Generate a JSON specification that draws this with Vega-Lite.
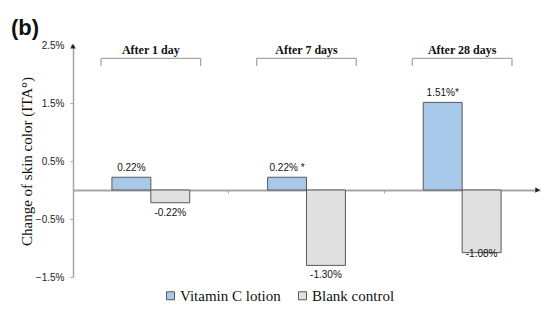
{
  "$schema": "https://vega.github.io/schema/vega-lite/v6.json",
  "width": 467,
  "height": 232,
  "autosize": {"type": "none"},
  "padding": {"left": 73, "top": 45, "right": 8, "bottom": 33},
  "background": "white",
  "title": {"text": "(b)", "anchor": "start", "frame": "group", "dx": -62, "dy": 6, "offset": 6, "fontSize": 22, "font": "Liberation Sans", "fontWeight": "bold", "color": "#111111"},
  "config": {"view": {"stroke": null}, "font": "Liberation Sans"},
  "datasets": {
    "bars": [
      {"day": "After 1 day", "treatment": "Vitamin C lotion", "value": 0.22, "label": "0.22%"},
      {"day": "After 1 day", "treatment": "Blank control", "value": -0.22, "label": "-0.22%"},
      {"day": "After 7 days", "treatment": "Vitamin C lotion", "value": 0.22, "label": "0.22% *"},
      {"day": "After 7 days", "treatment": "Blank control", "value": -1.30, "label": "-1.30%"},
      {"day": "After 28 days", "treatment": "Vitamin C lotion", "value": 1.51, "label": "1.51%*"},
      {"day": "After 28 days", "treatment": "Blank control", "value": -1.08, "label": "-1.08%"}
    ],
    "days": [
      {"day": "After 1 day"},
      {"day": "After 7 days"},
      {"day": "After 28 days"}
    ]
  },
  "layer": [
    {
      "data": {"name": "bars"},
      "mark": {"type": "bar", "stroke": "#595959", "strokeWidth": 1},
      "encoding": {
        "x": {
          "field": "day", "type": "nominal",
          "scale": {"domain": ["After 1 day", "After 7 days", "After 28 days"], "paddingInner": 0, "paddingOuter": 0},
          "axis": {"title": null, "labels": false, "offset": -87, "domainColor": "#a6a6a6", "domainWidth": 2, "tickColor": "#a6a6a6", "tickSize": 3, "bandPosition": 0, "ticks": true, "grid": false}
        },
        "xOffset": {"field": "treatment", "type": "nominal", "sort": ["Vitamin C lotion", "Blank control"], "scale": {"paddingOuter": 1.1, "paddingInner": 0}},
        "y": {
          "field": "value", "type": "quantitative",
          "scale": {"domain": [-1.5, 2.5], "nice": false, "zero": false},
          "axis": {"title": "Change of skin color (ITA°)", "titleFont": "Liberation Serif", "titleFontSize": 15, "titleFontWeight": "normal", "titleColor": "#111111", "values": [-1.5, -0.5, 0.5, 1.5, 2.5], "labelExpr": "format(datum.value,'.1f')+'%'", "labelFontSize": 10, "labelColor": "#222222", "domainColor": "#a6a6a6", "domainWidth": 1.5, "tickColor": "#a6a6a6", "tickSize": 3, "grid": false, "labelPadding": 6, "titlePadding": 1}
        },
        "color": {
          "field": "treatment", "type": "nominal",
          "scale": {"domain": ["Vitamin C lotion", "Blank control"], "range": ["#a7c8e9", "#e0e0e0"]},
          "legend": {"orient": "none", "legendX": 90, "legendY": 243, "direction": "horizontal", "title": null, "symbolType": "square", "symbolSize": 64, "symbolStrokeColor": "#595959", "symbolStrokeWidth": 1, "labelFont": "Liberation Serif", "labelFontSize": 15, "labelColor": "#111111", "columnPadding": 14, "labelOffset": 2, "padding": 0}
        }
      }
    },
    {
      "data": {"name": "bars"},
      "transform": [{"filter": "datum.value > 0"}],
      "mark": {"type": "text", "baseline": "bottom", "dy": -4, "fontSize": 10, "color": "#111111"},
      "encoding": {
        "x": {"field": "day", "type": "nominal"},
        "xOffset": {"field": "treatment", "type": "nominal", "sort": ["Vitamin C lotion", "Blank control"]},
        "y": {"field": "value", "type": "quantitative"},
        "text": {"field": "label"}
      }
    },
    {
      "data": {"name": "bars"},
      "transform": [{"filter": "datum.value < 0 && datum.value != -1.08"}],
      "mark": {"type": "text", "baseline": "top", "dy": 5, "fontSize": 10, "color": "#111111"},
      "encoding": {
        "x": {"field": "day", "type": "nominal"},
        "xOffset": {"field": "treatment", "type": "nominal", "sort": ["Vitamin C lotion", "Blank control"]},
        "y": {"field": "value", "type": "quantitative"},
        "text": {"field": "label"}
      }
    },
    {
      "data": {"name": "bars"},
      "transform": [{"filter": "datum.value == -1.08"}],
      "mark": {"type": "text", "baseline": "top", "dy": -4, "fontSize": 10, "color": "#111111"},
      "encoding": {
        "x": {"field": "day", "type": "nominal"},
        "xOffset": {"field": "treatment", "type": "nominal", "sort": ["Vitamin C lotion", "Blank control"]},
        "y": {"field": "value", "type": "quantitative"},
        "text": {"field": "label"}
      }
    },
    {
      "data": {"name": "days"},
      "mark": {"type": "rule", "color": "#a6a6a6", "strokeWidth": 1.3},
      "encoding": {
        "x": {"field": "day", "type": "nominal", "bandPosition": 0.18},
        "x2": {"field": "day", "bandPosition": 0.82},
        "y": {"datum": 2.27}
      }
    },
    {
      "data": {"name": "days"},
      "mark": {"type": "rule", "color": "#a6a6a6", "strokeWidth": 1.3},
      "encoding": {
        "x": {"field": "day", "type": "nominal", "bandPosition": 0.18},
        "y": {"datum": 2.27},
        "y2": {"datum": 2.14}
      }
    },
    {
      "data": {"name": "days"},
      "mark": {"type": "rule", "color": "#a6a6a6", "strokeWidth": 1.3},
      "encoding": {
        "x": {"field": "day", "type": "nominal", "bandPosition": 0.82},
        "y": {"datum": 2.27},
        "y2": {"datum": 2.14}
      }
    },
    {
      "data": {"name": "days"},
      "mark": {"type": "text", "font": "Liberation Serif", "fontWeight": "bold", "fontSize": 12, "color": "#111111", "baseline": "middle"},
      "encoding": {
        "x": {"field": "day", "type": "nominal"},
        "y": {"datum": 2.42},
        "text": {"field": "day"}
      }
    },
    {
      "data": {"name": "days"},
      "transform": [{"filter": "datum.day == 'After 28 days'"}],
      "mark": {"type": "point", "shape": "triangle-right", "filled": true, "size": 30, "color": "#222222", "opacity": 1},
      "encoding": {
        "x": {"field": "day", "type": "nominal", "bandPosition": 0.985},
        "y": {"datum": 0}
      }
    },
    {
      "data": {"name": "days"},
      "transform": [{"filter": "datum.day == 'After 1 day'"}],
      "mark": {"type": "point", "shape": "triangle-up", "filled": true, "size": 30, "color": "#222222", "opacity": 1},
      "encoding": {
        "x": {"field": "day", "type": "nominal", "bandPosition": 0},
        "y": {"datum": 2.48}
      }
    }
  ]
}
